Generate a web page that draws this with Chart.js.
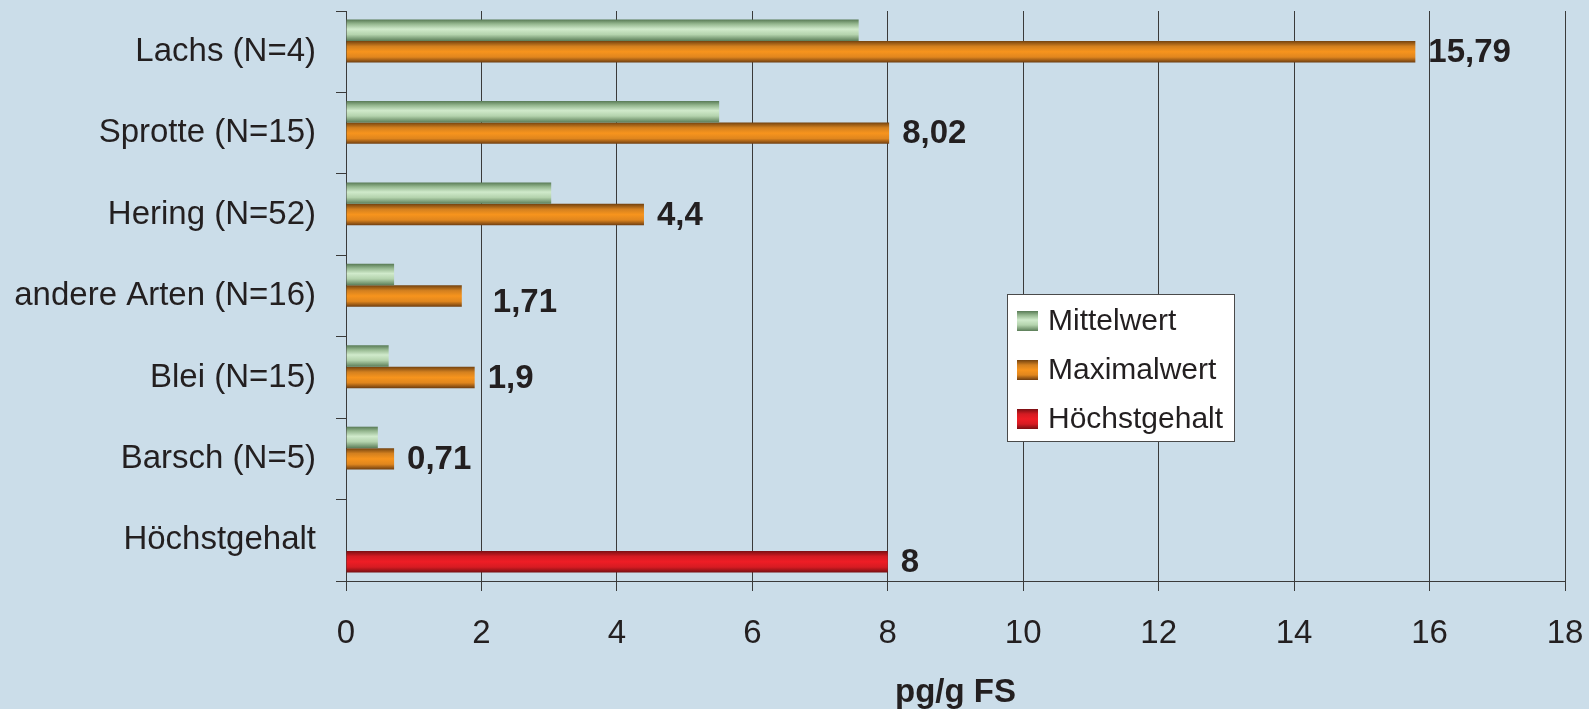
<!DOCTYPE html>
<html>
<head>
<meta charset="utf-8">
<script src="https://cdn.jsdelivr.net/npm/chart.js@4.4.1/dist/chart.umd.min.js"></script>
<style>
    html, body { margin: 0; padding: 0; background: #cbdde9; }
    #wrap { width: 1589px; height: 709px; position: relative; }
</style>
</head>
<body>
<div id="wrap"><canvas id="fishChart"></canvas></div>
<script>
const categories = ['Lachs (N=4)', 'Sprotte (N=15)', 'Hering (N=52)', 'andere Arten (N=16)', 'Blei (N=15)', 'Barsch (N=5)', 'Höchstgehalt'];
const mittelwert = [7.57, 5.51, 3.03, 0.71, 0.63, 0.47, null];
const maximalwert = [15.79, 8.02, 4.4, 1.71, 1.9, 0.71, null];
const hoechstgehalt = [null, null, null, null, null, null, 8];
const seriesNames = ['Mittelwert', 'Maximalwert', 'Höchstgehalt'];
const xTicks = [0, 2, 4, 6, 8, 10, 12, 14, 16, 18];

const FONT = '"Liberation Sans", Arial, Helvetica, sans-serif';
const TEXT = '#231f20';
const LINE = '#3a3a3a';

// vertical shading of the bars (top edge -> bottom edge)
const shades = [
    [[0, '#587a55'], [0.2, '#94b68e'], [0.45, '#d0eacb'], [0.7, '#b4d3ad'], [1, '#5b7d58']],
    [[0, '#73420f'], [0.25, '#d3801f'], [0.5, '#f7941d'], [0.75, '#e0861e'], [1, '#6e3d10']],
    [[0, '#7a0f13'], [0.25, '#d41b22'], [0.5, '#ee1d25'], [0.75, '#d61b22'], [1, '#780f12']]
];

function makeGradient(ctx, top, bottom, stops) {
    const g = ctx.createLinearGradient(0, top, 0, bottom);
    stops.forEach(s => g.addColorStop(s[0], s[1]));
    return g;
}

function fmt(v) {
    return String(v).replace('.', ',');
}

const barShading = {
    id: 'barShading',
    beforeDatasetsDraw(chart) {
        const ctx = chart.ctx;
        chart.data.datasets.forEach((ds, di) => {
            chart.getDatasetMeta(di).data.forEach(el => {
                const h = el.height;
                const g = makeGradient(ctx, el.y - h / 2, el.y + h / 2, shades[di]);
                el.options = Object.assign({}, el.options, { backgroundColor: g });
            });
        });
    }
};

const valueLabels = {
    id: 'valueLabels',
    afterDatasetsDraw(chart, args, opts) {
        const ctx = chart.ctx;
        ctx.save();
        ctx.font = 'bold 33px ' + FONT;
        ctx.fillStyle = TEXT;
        ctx.textBaseline = 'middle';
        ctx.textAlign = 'left';
        opts.datasets.forEach(di => {
            const values = chart.data.datasets[di].data;
            chart.getDatasetMeta(di).data.forEach((el, i) => {
                if (values[i] == null) return;
                const nudge = (opts.nudge[di] && opts.nudge[di][i]) || [0, 0];
                ctx.fillText(fmt(values[i]), el.x + 13 + nudge[0], el.y + 1 + nudge[1]);
            });
        });
        ctx.restore();
    }
};

const boxLegend = {
    id: 'boxLegend',
    afterDraw(chart, args, opts) {
        const ctx = chart.ctx;
        const b = opts.box;
        ctx.save();
        ctx.fillStyle = '#ffffff';
        ctx.fillRect(b.x, b.y, b.w, b.h);
        ctx.strokeStyle = '#4a4a4a';
        ctx.lineWidth = 1;
        ctx.strokeRect(b.x + 0.5, b.y + 0.5, b.w, b.h);
        ctx.font = '30px ' + FONT;
        ctx.textBaseline = 'middle';
        ctx.textAlign = 'left';
        seriesNames.forEach((name, i) => {
            const cy = b.y + opts.firstY + i * opts.step;
            ctx.fillStyle = makeGradient(ctx, cy - 10, cy + 10, shades[i]);
            ctx.fillRect(b.x + 10, cy - 10, 21, 20);
            ctx.fillStyle = TEXT;
            ctx.fillText(name, b.x + 41, cy + 1);
        });
        ctx.restore();
    }
};

const seriesData = [mittelwert, maximalwert, hoechstgehalt];

new Chart(document.getElementById('fishChart').getContext('2d'), {
    type: 'bar',
    data: {
        labels: categories,
        datasets: seriesNames.map((name, i) => ({
            label: name,
            data: seriesData[i],
            backgroundColor: shades[i][2][1],
            borderWidth: 0,
            categoryPercentage: 0.79,
            barPercentage: 1
        }))
    },
    options: {
        indexAxis: 'y',
        responsive: true,
        maintainAspectRatio: false,
        animation: false,
        layout: { padding: { top: 11, right: 24, left: 0, bottom: 0 } },
        plugins: {
            legend: { display: false },
            tooltip: { enabled: false },
            valueLabels: { datasets: [1, 2], nudge: { 1: { 3: [18, 6] } } },
            boxLegend: { box: { x: 1007, y: 294, w: 227, h: 147 }, firstY: 27, step: 49 }
        },
        scales: {
            x: {
                min: 0,
                max: 18,
                afterBuildTicks: s => { s.ticks = xTicks.map(v => ({ value: v })); },
                afterFit: s => { s.height = 128; s.paddingLeft = 0; s.paddingRight = 0; },
                grid: { color: LINE, lineWidth: 1, tickLength: 10, tickColor: LINE },
                border: { color: LINE, width: 1 },
                ticks: { color: TEXT, font: { family: FONT, size: 33 }, padding: 23 },
                title: {
                    display: true,
                    text: 'pg/g FS',
                    color: TEXT,
                    font: { family: FONT, size: 33, weight: 'bold', lineHeight: 1 },
                    padding: { top: 0, bottom: 0 }
                }
            },
            y: {
                afterFit: s => { s.width = 346; s.paddingTop = 0; s.paddingBottom = 0; },
                grid: { drawOnChartArea: false, offset: true, tickLength: 10, color: LINE },
                border: { color: LINE, width: 1 },
                ticks: { color: TEXT, font: { family: FONT, size: 33 }, padding: 20 }
            }
        }
    },
    plugins: [barShading, valueLabels, boxLegend]
});
</script>
</body>
</html>
